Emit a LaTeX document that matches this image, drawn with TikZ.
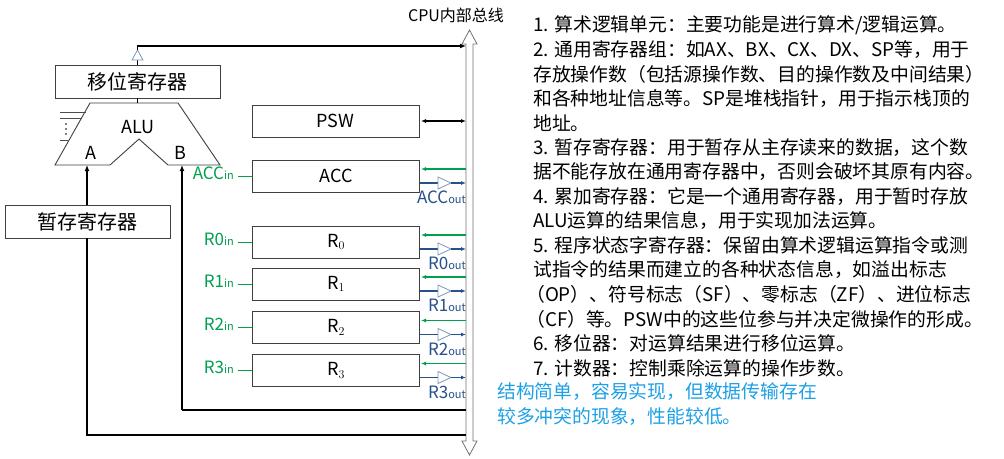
\documentclass[tikz,border=0pt]{standalone}
\usepackage{fontspec}
\setmainfont{Noto Sans CJK SC}
\usetikzlibrary{arrows.meta}
\definecolor{grn}{RGB}{0,160,80}
\definecolor{blu}{RGB}{40,80,140}
\definecolor{lblu}{RGB}{30,160,230}
\begin{document}
\begin{tikzpicture}[x=1pt,y=-1pt,
 box/.style={draw=black!75,fill=white,line width=0.9pt,inner sep=0},
 ln/.style={line width=1.6pt,-{Latex[length=6pt,width=5pt]}},
 gin/.style={grn,line width=1.3pt,-{Latex[length=5pt,width=4pt]}},
 bout/.style={blu,line width=1.3pt,-{Latex[length=5pt,width=4pt]}},
 lab/.style={font=\fontsize{18}{18}\selectfont},
 inl/.style={grn,font=\fontsize{17}{17}\selectfont,anchor=east,inner sep=0},
 outl/.style={blu,font=\fontsize{17}{17}\selectfont},
 txt/.style={anchor=west,inner sep=0,font=\fontsize{18.8}{18.8}\selectfont}]
\useasboundingbox[fill=white] (0,0) rectangle (1004,458);
% bus
\draw[black!55,fill=white,line width=0.8pt] (466,44)--(462,44)--(469.5,30)--(477,44)--(473,44)--(473,441)--(477,441)--(469.5,455)--(462,441)--(466,441)--cycle;
\coordinate (bx) at (466,0);
\node[font=\fontsize{16}{16}\selectfont] (cpu) at (456,15) {CPU内部总线};
% shift register
\node[box,minimum width=165,minimum height=33,font=\fontsize{20}{20}\selectfont] (sh) at (137.5,81.5) {移位寄存器};
% ALU
\draw[black!75,fill=white,line width=0.9pt] (90,103)--(178,103)--(220,165)--(168,165)--(139,139)--(110,165)--(55,165)--cycle;
\node[lab] (alu) at (138,127) {ALU};
\node[lab] (la) at (91,153) {A};
\node[lab] (lb) at (180,153) {B};
\draw[black!70,line width=0.8pt] (60,112)--(86,112) (60,118)--(82,118) (60,140)--(68,140);
\foreach \yy in {124,129,134} \fill (66,\yy) circle (0.9);
\draw[line width=1.4pt] (137.5,98)--(137.5,103);
% output of shifter
\coordinate (sht) at (137.5,46);
\draw[line width=1.4pt] (sh.north)--(137.5,58);
\draw[blu!60,fill=white,line width=0.8pt] (132,60)--(143,60)--(137.5,50)--cycle;
\draw[ln] (137.5,50)--(sht)--(sht-|bx);
% temp register
\node[box,minimum width=165,minimum height=33,font=\fontsize{20}{20}\selectfont] (tmp) at (87.5,221.5) {暂存寄存器};
\coordinate (ia) at (87,165);
\coordinate (ib) at (182,165);
\draw[ln] (tmp.north-|ia)--(ia);
\draw[line width=1.6pt] (tmp.south-|ia)--(87,435)--(87,435-|bx);
\draw[ln] (182,410)--(ib);
\draw[line width=1.6pt] (182,410)--(182,410-|bx);
% PSW
\node[box,minimum width=167,minimum height=32,lab] (psw) at (335.5,121) {PSW};
\draw[line width=1.3pt,{Latex[length=5pt,width=4pt]}-{Latex[length=5pt,width=4pt]}] (421,121)--(psw.east-|bx);
% registers
\foreach \n/\y/\t/\a in {acc/176/ACC/ACC,r0/242/$\mathrm{R}_0$/R0,r1/284/$\mathrm{R}_1$/R1,r2/327.5/$\mathrm{R}_2$/R2,r3/370.5/$\mathrm{R}_3$/R3}{
 \node[box,minimum width=167,minimum height=32,lab] (\n) at (336,\y) {\t};
 \draw[grn,line width=0.8pt] (\n.west)--++(-14,0);
 \node[inl] (\n in) at (234,\y-3) {\a\fontsize{11}{11}\selectfont in};
 \draw[gin] (466,\y-7)--(421,\y-7);
 \draw[blu,line width=1.3pt] (420,\y+7)--(438,\y+7);
 \draw[blu!60,fill=white,line width=0.8pt] (438,\y+1)--(438,\y+13)--(451,\y+7)--cycle;
 \draw[bout] (451,\y+7)--(466,\y+7);
 \node[outl,anchor=north east,inner sep=0] (\n out) at (466,\y+15) {\a\fontsize{11}{11}\selectfont out};
}
% text
\node[txt] (t1) at (533,25) {1. 算术逻辑单元：主要功能是进行算术/逻辑运算。};
\node[txt] (t2) at (533,49.5) {2. 通用寄存器组：如AX、BX、CX、DX、SP等，用于};
\node[txt] (t3) at (533,74) {存放操作数（包括源操作数、目的操作数及中间结果）};
\node[txt] (t4) at (533,98.5) {和各种地址信息等。SP是堆栈指针，用于指示栈顶的};
\node[txt] (t5) at (533,123) {地址。};
\node[txt] (t6) at (533,147.5) {3. 暂存寄存器：用于暂存从主存读来的数据，这个数};
\node[txt] (t7) at (533,172) {据不能存放在通用寄存器中，否则会破坏其原有内容。};
\node[txt] (t8) at (533,196.5) {4. 累加寄存器：它是一个通用寄存器，用于暂时存放};
\node[txt] (t9) at (533,221) {ALU运算的结果信息，用于实现加法运算。};
\node[txt] (t10) at (533,245.5) {5. 程序状态字寄存器：保留由算术逻辑运算指令或测};
\node[txt] (t11) at (533,270) {试指令的结果而建立的各种状态信息，如溢出标志};
\node[txt] (t12) at (526,294.5) {（OP）、符号标志（SF）、零标志（ZF）、进位标志};
\node[txt] (t13) at (526,319) {（CF）等。PSW中的这些位参与并决定微操作的形成。};
\node[txt] (t14) at (533,343.5) {6. 移位器：对运算结果进行移位运算。};
\node[txt] (t15) at (533,368) {7. 计数器：控制乘除运算的操作步数。};
\node[txt,lblu] (b1) at (497,392) {结构简单，容易实现，但数据传输存在};
\node[txt,lblu] (b2) at (497,417) {较多冲突的现象，性能较低。};
\end{tikzpicture}
\end{document}
